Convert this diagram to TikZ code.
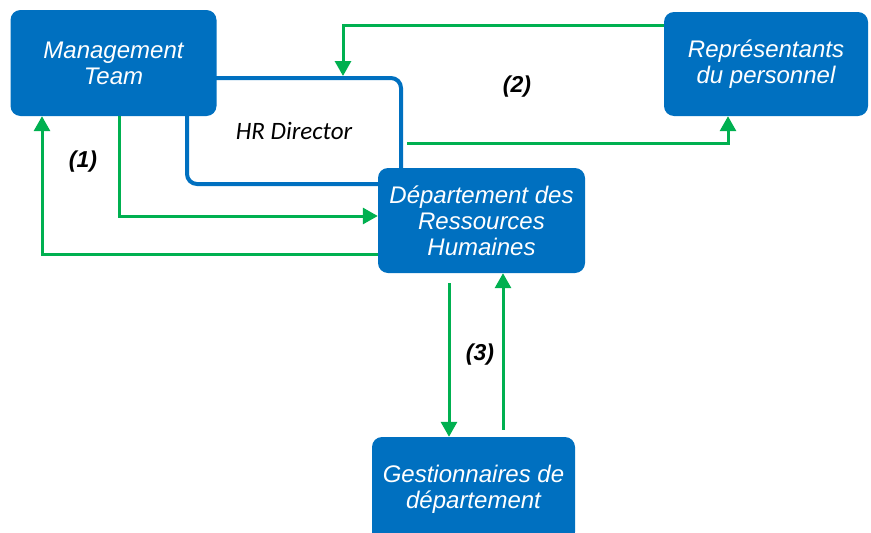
\documentclass[tikz,border=0pt]{standalone}
\usepackage{fontspec}
\setmainfont{Liberation Sans}
\newfontfamily\calibri{Carlito}
\usetikzlibrary{arrows.meta}
\definecolor{hrblue}{RGB}{0,112,192}
\definecolor{flowgreen}{RGB}{0,176,80}

\begin{document}
\begin{tikzpicture}[x=1pt,y=-1pt]
\tikzstyle{box}=[fill=hrblue, rounded corners=10pt, text=white, align=center, inner sep=0pt, font=\itshape\fontsize{24}{26}\selectfont]
\tikzstyle{frame}=[draw=hrblue, line width=4pt, rounded corners=10pt, font=\calibri\itshape\fontsize{25}{28}\selectfont]
\tikzstyle{flow}=[draw=flowgreen, line width=3pt, -{Triangle[length=15pt,width=16pt]}]
\tikzstyle{num}=[font=\bfseries\itshape\fontsize{23}{26}\selectfont]
\useasboundingbox (0,0) rectangle (871,533);

\node[frame, minimum width=214pt, minimum height=106pt] (HRD) at (294,131) {HR Director};

\node[box, minimum width=206pt, minimum height=106pt] (MT) at (113.5,63) {Management\\Team};
\node[box, minimum width=204pt, minimum height=104pt] (RP) at (766,64) {Représentants\\du personnel};
\node[box, minimum width=207pt, minimum height=105pt] (DRH) at (481.5,220.5) {Département des\\Ressources\\Humaines};
\node[box, minimum width=203pt, minimum height=105pt] (GD) at (473.5,489.5) {Gestionnaires de\\département};

\node[num] (L1) at (83,162) {(1)};
\node[num] (L2) at (517,87) {(2)};
\node[num] (L3) at (480,355) {(3)};

% (1)
\draw[flow] ([xshift=5.5pt]MT.south) |- ([yshift=4.5pt]DRH.west);
\draw[flow] ([yshift=-33.5pt]DRH.west) -| ([xshift=-71.5pt]MT.south);
% (2)
\draw[flow] ([yshift=39pt]RP.west) -| ([xshift=49pt]HRD.north);
\draw[flow] ([xshift=4pt,yshift=-12pt]HRD.east) -| ([xshift=-38pt]RP.south);
% (3)
\coordinate (d1) at ([xshift=-32.5pt,yshift=-10pt]DRH.south);
\coordinate (u1) at ([xshift=29.5pt,yshift=7pt]GD.north);
\draw[flow] (d1) -- (d1 |- GD.north);
\draw[flow] (u1) -- (u1 |- DRH.south);
%\draw[flow] (GD) -- (DRH);
\end{tikzpicture}
\end{document}
